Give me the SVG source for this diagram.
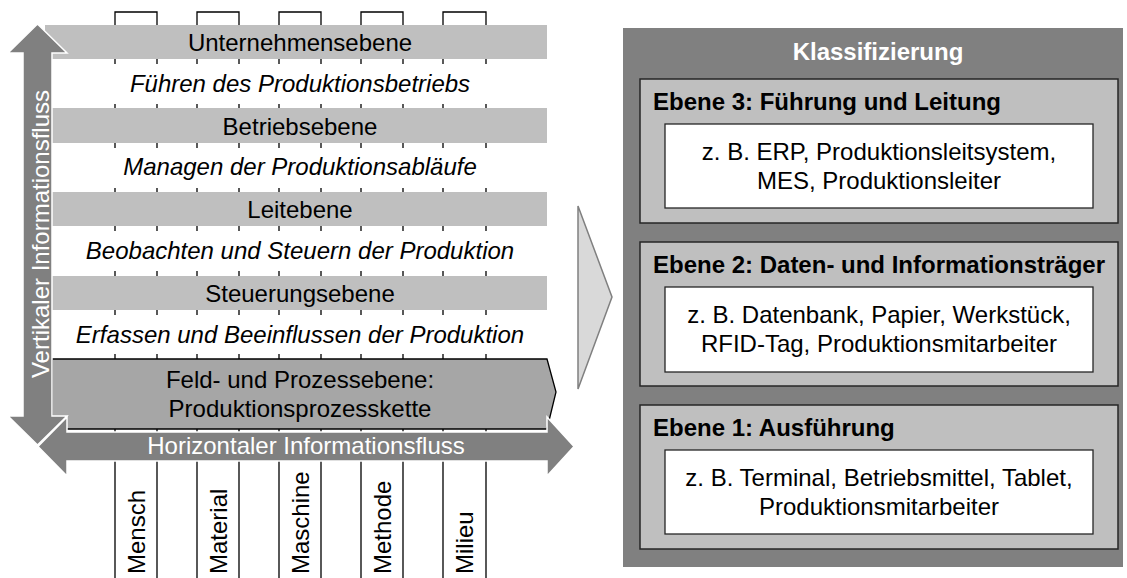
<svg xmlns="http://www.w3.org/2000/svg" width="1127" height="578" viewBox="0 0 1127 578">
<style>
text{font-family:"Liberation Sans",Arial,sans-serif;font-size:24px;fill:#000}
.c{text-anchor:middle}
.i{font-style:italic}
.b{font-weight:bold}
.w{fill:#fff}
.bar{fill:#bfbfbf}
.col{fill:none;stroke:#000;stroke-width:1.3}
.arr{fill:#808080;stroke:#fff;stroke-width:1.5}
.lvl{fill:#bfbfbf;stroke:#262626;stroke-width:1.5}
.box{fill:#fff;stroke:#262626;stroke-width:1.3}
</style>
<rect width="1127" height="578" fill="#fff"/>
<g id="columns">
<path class="col" d="M115,578V12H157V578"/>
<path class="col" d="M197,578V12H239V578"/>
<path class="col" d="M279,578V12H321V578"/>
<path class="col" d="M361,578V12H403V578"/>
<path class="col" d="M443,578V12H486V578"/>
</g>
<g id="row-fuehren">
<rect x="53" y="64" width="494" height="40" fill="#fff"/>
<text class="c i" x="300" y="92">Führen des Produktionsbetriebs</text>
</g>
<g id="row-managen">
<rect x="53" y="148" width="494" height="40" fill="#fff"/>
<text class="c i" x="300" y="175">Managen der Produktionsabläufe</text>
</g>
<g id="row-beobachten">
<rect x="53" y="231" width="494" height="40" fill="#fff"/>
<text class="c i" x="300" y="259">Beobachten und Steuern der Produktion</text>
</g>
<g id="row-erfassen">
<rect x="53" y="315" width="494" height="39" fill="#fff"/>
<text class="c i" x="300" y="343">Erfassen und Beeinflussen der Produktion</text>
</g>
<g id="bar-unternehmen">
<rect class="bar" x="45" y="25" width="502" height="34"/>
<text class="c" x="300" y="51">Unternehmensebene</text>
</g>
<g id="bar-betrieb">
<rect class="bar" x="52" y="108" width="495" height="35"/>
<text class="c" x="300" y="135">Betriebsebene</text>
</g>
<g id="bar-leit">
<rect class="bar" x="52" y="192" width="495" height="34"/>
<text class="c" x="300" y="218">Leitebene</text>
</g>
<g id="bar-steuerung">
<rect class="bar" x="52" y="276" width="495" height="34"/>
<text class="c" x="300" y="302">Steuerungsebene</text>
</g>
<g id="bar-feld">
<polygon points="52,359 547,359 556,392 547,429 52,429" fill="#a6a6a6" stroke="#000" stroke-width="1.3"/>
<text class="c" x="300" y="388">Feld- und Prozessebene:</text>
<text class="c" x="300" y="417">Produktionsprozesskette</text>
</g>
<g id="connectors">
<g id="arrow-horizontal">
<polygon class="arr" points="38,446.5 67,417 67,432 547,432 547,417 574,446.5 547,476 547,461 67,461 67,476"/>
<text class="c w" x="306" y="454">Horizontaler Informationsfluss</text>
</g>
<g id="arrow-vertical">
<polygon class="arr" points="37.5,24 67,53 52,53 52,416 67,416 37.5,445 8,416 23,416 23,53 8,53"/>
<text class="c w" transform="translate(49,234) rotate(-90)">Vertikaler Informationsfluss</text>
</g>
<g id="chevron">
<polygon points="578,206 612,297 578,389" fill="#d9d9d9" stroke="#808080" stroke-width="1.5"/>
</g>
</g>
<g id="col-labels">
<text transform="translate(145,574) rotate(-90)">Mensch</text>
<text transform="translate(227,574) rotate(-90)">Material</text>
<text transform="translate(309,574) rotate(-90)">Maschine</text>
<text transform="translate(391,574) rotate(-90)">Methode</text>
<text transform="translate(473,574) rotate(-90)">Milieu</text>
</g>
<g id="klassifizierung">
<rect x="623" y="28" width="500" height="539" fill="#808080"/>
<text class="c b w" x="878" y="60">Klassifizierung</text>
</g>
<g id="ebene3">
<rect class="lvl" x="640" y="79" width="478" height="144"/>
<text class="b" x="653" y="110">Ebene 3: Führung und Leitung</text>
<rect class="box" x="665" y="124" width="428" height="84"/>
<text class="c" x="879" y="160">z. B. ERP, Produktionsleitsystem,</text>
<text class="c" x="879" y="189">MES, Produktionsleiter</text>
</g>
<g id="ebene2">
<rect class="lvl" x="640" y="242" width="478" height="144"/>
<text class="b" x="653" y="273">Ebene 2: Daten- und Informationsträger</text>
<rect class="box" x="665" y="287" width="428" height="85"/>
<text class="c" x="879" y="323">z. B. Datenbank, Papier, Werkstück,</text>
<text class="c" x="879" y="352">RFID-Tag, Produktionsmitarbeiter</text>
</g>
<g id="ebene1">
<rect class="lvl" x="640" y="405" width="478" height="144"/>
<text class="b" x="653" y="436">Ebene 1: Ausführung</text>
<rect class="box" x="665" y="450" width="428" height="84"/>
<text class="c" x="879" y="486">z. B. Terminal, Betriebsmittel, Tablet,</text>
<text class="c" x="879" y="515">Produktionsmitarbeiter</text>
</g>
</svg>
